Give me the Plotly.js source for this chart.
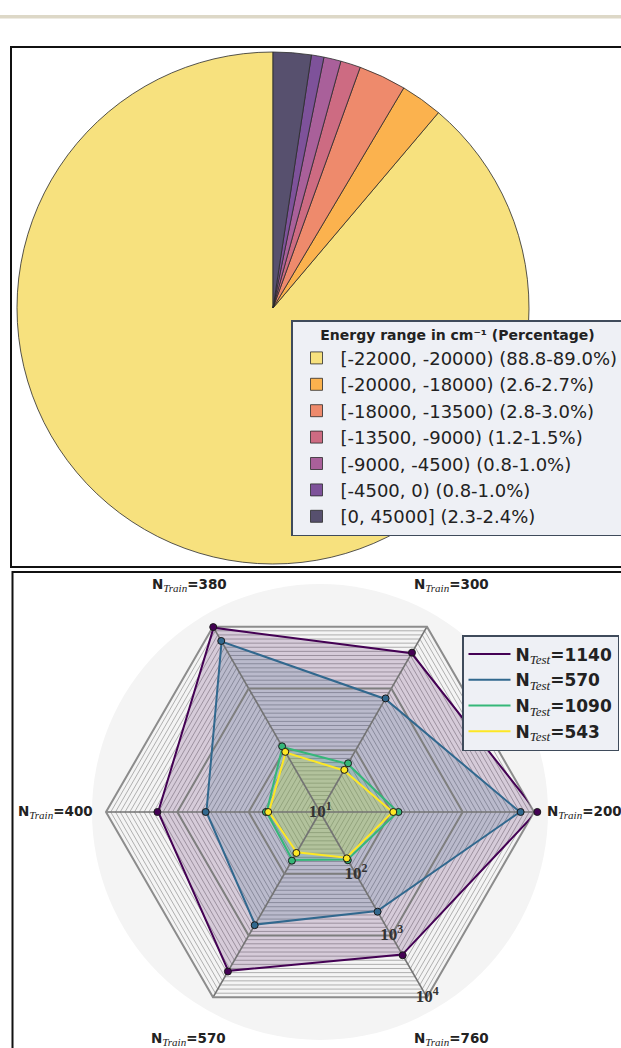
<!DOCTYPE html>
<html>
<head>
<meta charset="utf-8">
<script src="https://cdn.plot.ly/plotly-3.0.1.min.js"></script>
<style>html,body{margin:0;padding:0;background:#fff;}</style>
</head>
<body>
<div id="chart" style="width:621px;height:1048px;"></div>
<script>
// ---------- DATA ----------
const pieLabels = [
  '[-22000, -20000) (88.8-89.0%)',
  '[-20000, -18000) (2.6-2.7%)',
  '[-18000, -13500) (2.8-3.0%)',
  '[-13500, -9000) (1.2-1.5%)',
  '[-9000, -4500) (0.8-1.0%)',
  '[-4500, 0) (0.8-1.0%)',
  '[0, 45000] (2.3-2.4%)'
];
const piePercent = [88.8, 2.65, 3.0, 1.26, 1.08, 0.79, 2.4];
const pieColors = ['#f7e17e', '#fbb24e', '#ee8a6c', '#cd6b82', '#a9609a', '#7e529a', '#57506e'];

const trainSizes = [200, 300, 380, 400, 570, 760];
const testSizes = [1140, 570, 1090, 543];
const errTest1140 = [10870, 3710, 9620, 1857, 3730, 2035];
const errTest570  = [6340, 675, 5740, 391, 664, 402];
const errTest1090 = [123, 60, 113, 56, 60, 59];
const errTest543  = [104, 47, 92, 52, 45, 55];
const radialTickVals = [10, 100, 1000, 10000];
const radialTickText = ['10<sup>1</sup>', '10<sup>2</sup>', '10<sup>3</sup>', '10<sup>4</sup>'];

// ---------- STYLE ----------
const W = 621, H = 1048;
const seriesColors = ['#440154', '#31688e', '#35b779', '#fde725'];
const fillColors = ['rgba(68,1,84,0.17)', 'rgba(49,104,142,0.17)', 'rgba(53,183,121,0.20)', 'rgba(253,231,37,0.20)'];
const seriesValues = [errTest1140, errTest570, errTest1090, errTest543];
const SERIF = 'Liberation Serif';
const SANS = 'DejaVu Sans';

const categories = trainSizes.map(n => 'N' + n);
const closeLoop = a => a.concat([a[0]]);
const catLoop = closeLoop(categories);

function subLabel(sub, n, subSize) {
  return '<b>N</b><sub><i><span style="font-family:' + SERIF + ';font-weight:normal;font-size:' + subSize + 'px">' + sub +
         '</span></i></sub><b>=' + n + '</b>';
}

// radar geometry (px)
const RC = {x: 320, y: 812, r: 214, bg: 228};
const GRID_RANGE = [1, 4];
const PXD = RC.r / (GRID_RANGE[1] - GRID_RANGE[0]);   // px per decade
const DATA_RANGE = [0.99, 4.06];
const RD = PXD * (DATA_RANGE[1] - DATA_RANGE[0]);
function sq(cx, cy, r) {
  return {x: [(cx - r) / W, (cx + r) / W], y: [(H - cy - r) / H, (H - cy + r) / H]};
}
const gridDomain = sq(RC.x, RC.y, RC.r);
const dataDomain = sq(RC.x, RC.y, RD);
// pie geometry (px)
const PC = {x: 273, y: 308, r: 256};
const pieDomain = sq(PC.x, PC.y, PC.r);
const pieTotal = piePercent.reduce((a, b) => a + b, 0);
const pieRotation = 360 * (pieTotal - piePercent[0]) / pieTotal; // first slice starts at 12 o'clock, CCW

const traces = [];
traces.push({
  type: 'pie', labels: pieLabels, values: piePercent, sort: false,
  direction: 'counterclockwise', rotation: pieRotation,
  marker: {colors: pieColors, line: {color: '#2a2a2a', width: 0.8}},
  textinfo: 'none', hoverinfo: 'skip', domain: pieDomain, legend: 'legend'
});

// fills on the minor-grid polar
seriesValues.forEach((vals, i) => {
  traces.push({
    type: 'scatterpolar', subplot: 'polar', r: closeLoop(vals), theta: catLoop,
    mode: 'lines', fill: 'toself', fillcolor: fillColors[i], line: {width: 0, color: seriesColors[i]},
    showlegend: false, hoverinfo: 'skip', cliponaxis: false, legendgroup: 'g' + i
  });
});
// lines on the major-grid polar
seriesValues.forEach((vals, i) => {
  traces.push({
    type: 'scatterpolar', subplot: 'polar2', r: closeLoop(vals), theta: catLoop,
    mode: 'lines', line: {width: 2, color: seriesColors[i]},
    name: subLabel('Test', testSizes[i], 13), legend: 'legend2', legendgroup: 'g' + i,
    hoverinfo: 'skip', cliponaxis: false
  });
});
// markers on the data polar (wider range, same scale)
seriesValues.forEach((vals, i) => {
  traces.push({
    type: 'scatterpolar', subplot: 'polar3', r: vals, theta: categories,
    mode: 'markers', marker: {size: 7, color: seriesColors[i], line: {color: '#1a1a1a', width: 1}},
    showlegend: false, hoverinfo: 'skip', cliponaxis: false, legendgroup: 'g' + i
  });
});
// radial tick labels along the last spoke
traces.push({
  type: 'scatterpolar', subplot: 'polar3', r: radialTickVals,
  theta: radialTickVals.map(() => categories[categories.length - 1]),
  mode: 'text', text: radialTickText.map(t => '<b>' + t + '</b>'), textposition: 'middle center',
  textfont: {family: SERIF, size: 17, color: '#333'},
  showlegend: false, hoverinfo: 'skip', cliponaxis: false
});

// angular labels (N_Train) as annotations around the chart
const LABEL_R_SIDE = 225, LABEL_R_DIAG = 262;
const annotations = trainSizes.map((n, i) => {
  const a = i * Math.PI / 3;
  const side = (i % 3 === 0);
  const rr = side ? LABEL_R_SIDE : LABEL_R_DIAG;
  return {
    xref: 'paper', yref: 'paper', showarrow: false,
    x: (RC.x + rr * Math.cos(a)) / W, y: (H - (RC.y - rr * Math.sin(a))) / H,
    xanchor: i === 0 ? 'left' : (i === 3 ? 'right' : 'center'), yanchor: 'middle',
    text: subLabel('Train', n, 11), font: {family: SANS, size: 13.5, color: '#222'}
  };
});

// minor grid values (15 per decade)
const minorGrid = [];
for (let k = 0; k <= 45; k++) minorGrid.push(Math.pow(10, 1 + k / 15));

const hiddenAngular = {showticklabels: false, ticks: '', showline: false, showgrid: false};
const hiddenRadial = {showticklabels: false, ticks: '', showline: false, showgrid: false};

const layout = {
  width: W, height: H,
  margin: {l: 0, r: 0, t: 0, b: 0, autoexpand: false},
  paper_bgcolor: '#ffffff',
  font: {family: SANS, color: '#222'},
  showlegend: true,
  polar: {
    domain: gridDomain, bgcolor: 'rgba(0,0,0,0)', gridshape: 'linear',
    radialaxis: {type: 'log', range: GRID_RANGE, autorange: false, tickvals: minorGrid,
      showticklabels: false, ticks: '', showline: false,
      gridcolor: 'rgba(115,115,115,0.6)', gridwidth: 0.9, layer: 'below traces'},
    angularaxis: Object.assign({}, hiddenAngular)
  },
  polar2: {
    domain: gridDomain, bgcolor: 'rgba(0,0,0,0)', gridshape: 'linear',
    radialaxis: {type: 'log', range: GRID_RANGE, autorange: false, tickvals: radialTickVals,
      showticklabels: false, ticks: '', showline: false,
      gridcolor: '#7e7e7e', gridwidth: 2, layer: 'below traces'},
    angularaxis: {showticklabels: false, ticks: '', showline: true, linecolor: '#8c8c8c', linewidth: 2,
      showgrid: true, gridcolor: '#737373', gridwidth: 1.6, layer: 'below traces'}
  },
  polar3: {
    domain: dataDomain, bgcolor: 'rgba(0,0,0,0)',
    radialaxis: Object.assign({type: 'log', range: DATA_RANGE, autorange: false}, hiddenRadial),
    angularaxis: Object.assign({}, hiddenAngular)
  },
  legend: {
    x: 291 / W, y: (H - 320) / H, xanchor: 'left', yanchor: 'top',
    bgcolor: '#eef0f5', bordercolor: '#3f4b5b', borderwidth: 1.5,
    font: {family: SANS, size: 18, color: '#222'}, itemwidth: 38, entrywidth: 340,
    title: {text: '<b>Energy range in cm⁻¹ (Percentage)</b>', side: 'top center',
      font: {family: SANS, size: 14, color: '#222'}}
  },
  legend2: {
    x: 462 / W, y: (H - 635) / H, xanchor: 'left', yanchor: 'top',
    bgcolor: '#eef0f5', bordercolor: '#3f4b5b', borderwidth: 1.5,
    font: {family: SANS, size: 17, color: '#222'}, tracegroupgap: 0.6,
    itemwidth: 42, entrywidth: 200
  },
  annotations: annotations,
  shapes: [
    {type: 'rect', xref: 'paper', yref: 'paper', x0: -0.01, x1: 1.01,
      y0: (H - 18.5) / H, y1: (H - 15) / H, fillcolor: '#ddd8c7', line: {width: 0}, layer: 'below'},
    {type: 'circle', xref: 'paper', yref: 'paper',
      x0: (RC.x - RC.bg) / W, x1: (RC.x + RC.bg) / W,
      y0: (H - RC.y - RC.bg) / H, y1: (H - RC.y + RC.bg) / H,
      fillcolor: '#f4f4f4', line: {width: 0}, layer: 'below'},
    {type: 'rect', xref: 'paper', yref: 'paper', x0: 11 / W, x1: 1.02,
      y0: (H - 567) / H, y1: (H - 47) / H, line: {color: '#111', width: 2}, layer: 'above'},
    {type: 'rect', xref: 'paper', yref: 'paper', x0: 12.5 / W, x1: 1.02,
      y0: -0.02, y1: (H - 572) / H, line: {color: '#111', width: 2}, layer: 'above'}
  ]
};

Plotly.newPlot('chart', traces, layout, {displayModeBar: false, staticPlot: true});
</script>
</body>
</html>
